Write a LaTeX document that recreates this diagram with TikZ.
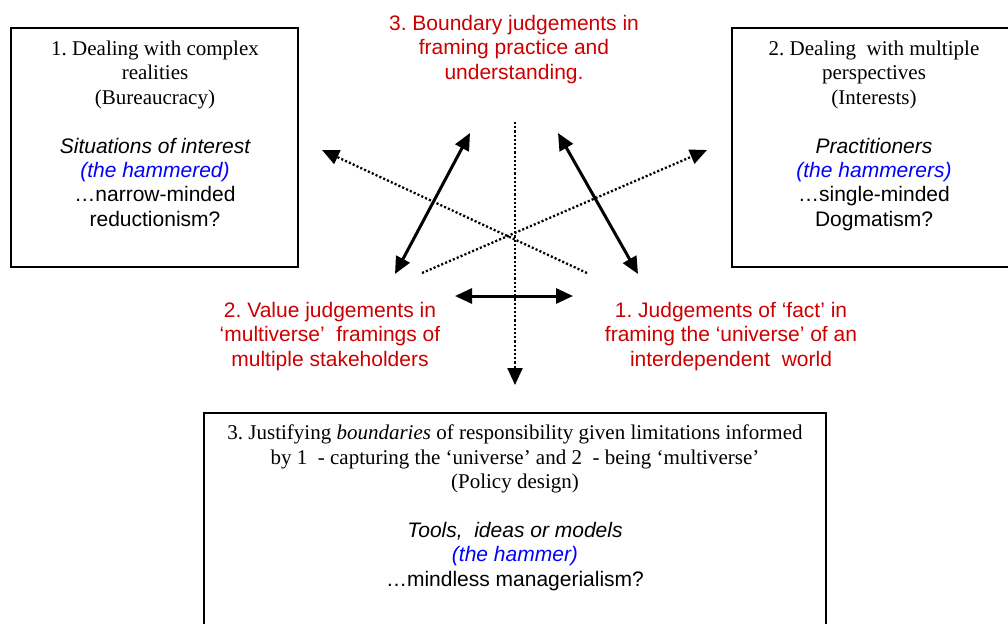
\documentclass[tikz,border=0pt]{standalone}
\usepackage{fontspec}
\setmainfont{Liberation Serif}
\newfontfamily\arialf{Liberation Sans}
\usetikzlibrary{arrows.meta}
\definecolor{jred}{RGB}{204,0,0}
\definecolor{jblue}{RGB}{0,0,255}
\frenchspacing
\tikzset{
  frame/.style={draw=black, line width=2pt, rectangle, inner sep=0pt},
  txt/.style={align=center, inner sep=0pt, anchor=north, font=\fontsize{21}{24.4}\selectfont},
  redtxt/.style={txt, text=jred, font=\fontsize{21}{24.4}\selectfont\arialf},
  tipend/.style={-{Triangle[length=17pt,width=15pt]}},
  bothtips/.style={{Triangle[length=17pt,width=15pt]}-{Triangle[length=17pt,width=15pt]}},
  dotline/.style={line width=2.3pt, dash pattern=on 2.1pt off 2.1pt},
  solidline/.style={line width=3pt},
}
\begin{document}
\begin{tikzpicture}[x=1pt,y=-1pt]
\useasboundingbox (0,0) rectangle (1008,623);
\clip (0,0) rectangle (1008,623);

% boxes
\node[frame, minimum width=287pt, minimum height=239pt] (b1) at (154.5,147.5) {};
\node[frame, minimum width=286pt, minimum height=239pt] (b2) at (875,147.5) {};
\node[frame, minimum width=622pt, minimum height=227pt] (b3) at (515,526.5) {};

% box texts
\node[txt] (t1) at (155,40.7) {1. Dealing with complex\\realities\\(Bureaucracy)\\[24.4pt]
  {\arialf\itshape Situations of interest}\\
  {\arialf\itshape\color{jblue}(the hammered)}\\
  {\arialf …narrow-minded}\\
  {\arialf reductionism?}};

\node[txt] (t2) at (874,40.7) {2. Dealing\ \ with multiple\\perspectives\\(Interests)\\[24.4pt]
  {\arialf\itshape Practitioners}\\
  {\arialf\itshape\color{jblue}(the hammerers)}\\
  {\arialf …single-minded}\\
  {\arialf Dogmatism?}};

\node[txt] (t3) at (515,424.7) {3. Justifying \textit{boundaries} of responsibility given limitations informed\\
  by 1\ \ - capturing the ‘universe’ and 2\ \ - being ‘multiverse’\\
  (Policy design)\\[24.4pt]
  {\arialf\itshape Tools,\ \ ideas or models}\\
  {\arialf\itshape\color{jblue}(the hammer)}\\
  {\arialf …mindless managerialism?}};

% red labels
\node[redtxt] (r3) at (514,15) {3. Boundary judgements in\\framing practice and\\understanding.};
\node[redtxt] (r2) at (330,302) {2. Value judgements in\\‘multiverse’\ \ framings of\\multiple stakeholders};
\node[redtxt] (r1) at (731,302) {1. Judgements of ‘fact’ in\\framing the ‘universe’ of an\\interdependent\ \ world};

% arrow end points
\coordinate (vtop) at (515,122);
\coordinate (vbot) at (515,385);
\coordinate (d1s) at (587,273);
\coordinate (d1e) at (322,150);
\coordinate (d2s) at (422,273);
\coordinate (d2e) at (707,150);
\coordinate (lbot) at (395,274);
\coordinate (ltop) at (470,133);
\coordinate (rbot) at (638,274);
\coordinate (rtop) at (558,133);
\coordinate (hl) at (455,296);
\coordinate (hr) at (573,296);

% dotted arrows
\draw[dotline, tipend] (vtop) -- (vbot);
\draw[dotline, tipend] (d1s) -- (d1e);
\draw[dotline, tipend] (d2s) -- (d2e);

% solid double arrows
\draw[solidline, bothtips] (lbot) -- (ltop);
\draw[solidline, bothtips] (rbot) -- (rtop);
\draw[solidline, bothtips] (hl) -- (hr);
\end{tikzpicture}
\end{document}
